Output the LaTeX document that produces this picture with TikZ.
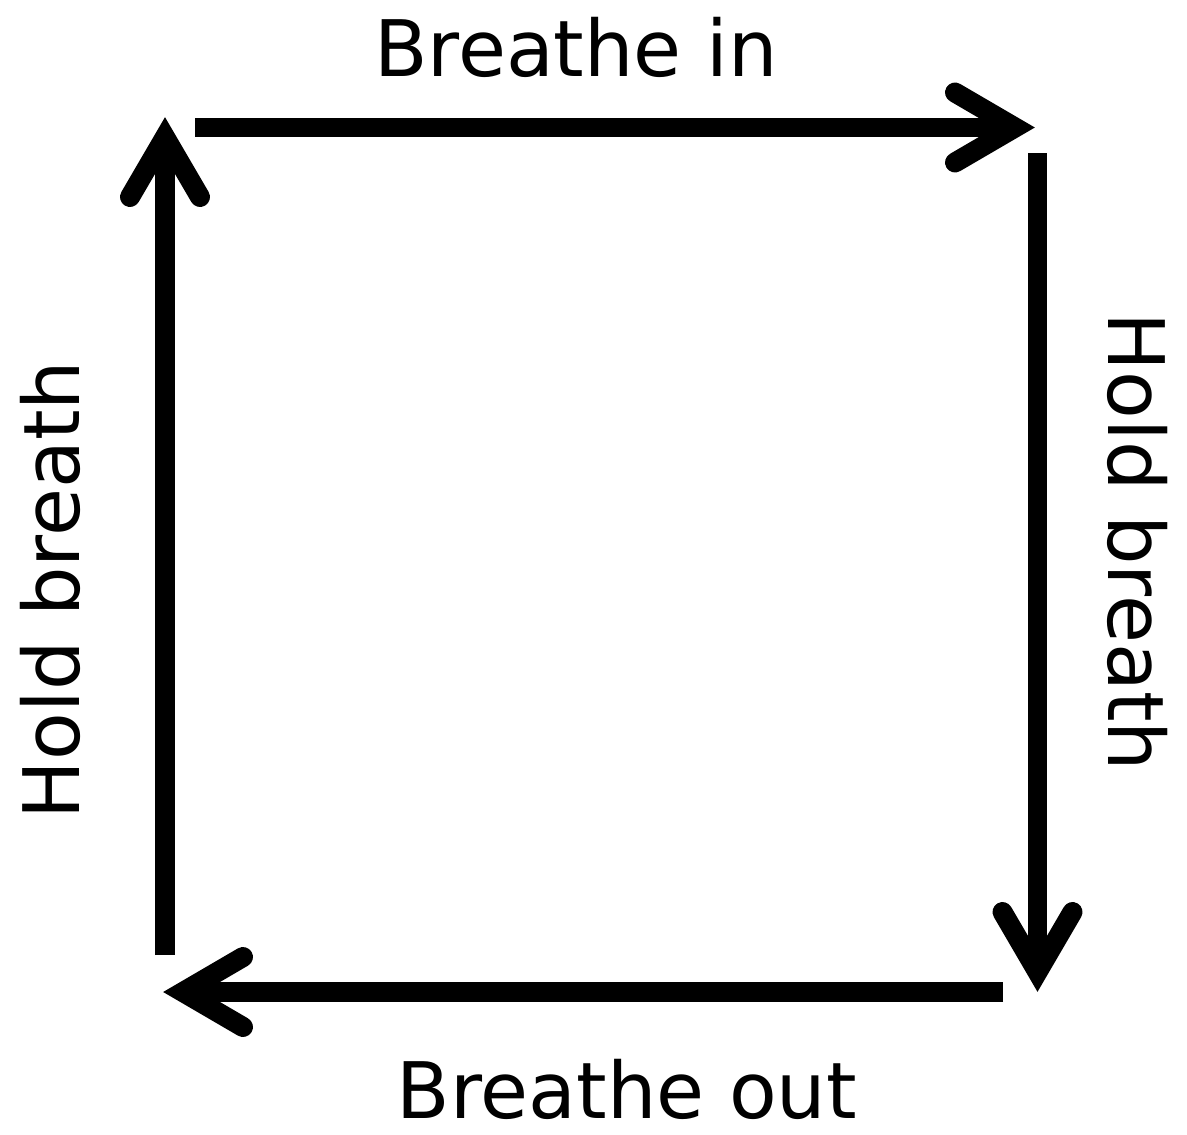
\documentclass[tikz,border=0pt]{standalone}
\usepackage{fontspec}
\setmainfont{DejaVu Sans}
\begin{document}
\begin{tikzpicture}[x=1pt,y=-1pt,
  shaft/.style={line width=19.5pt,line cap=butt},
  head/.style={line width=20pt,line cap=round,line join=miter},
  lbl/.style={inner sep=0pt,font=\fontsize{78}{92}\selectfont}]
\useasboundingbox (0,0) rectangle (1187,1135);
% corner coordinates
\coordinate (ts) at (195,127.5);
\coordinate (tt) at (1035,127.5);
\coordinate (rs) at (1037.5,153);
\coordinate (rt) at (1037.5,992);
\coordinate (bs) at (1003,992);
\coordinate (bt) at (163,992);
\coordinate (ls) at (165,955);
\coordinate (lt) at (165,117);
% shafts
\draw[shaft] (ts) -- ([shift={(-20,0)}]tt);
\draw[shaft] (rs) -- ([shift={(0,-20)}]rt);
\draw[shaft] (bs) -- ([shift={(20,0)}]bt);
\draw[shaft] (ls) -- ([shift={(0,20)}]lt);
% heads
\draw[head] ([shift={(-80,-35)}]tt) -- ([shift={(-20,0)}]tt) -- ([shift={(-80,35)}]tt);
\draw[head] ([shift={(-35,-80)}]rt) -- ([shift={(0,-20)}]rt) -- ([shift={(35,-80)}]rt);
\draw[head] ([shift={(80,-35)}]bt) -- ([shift={(20,0)}]bt) -- ([shift={(80,35)}]bt);
\draw[head] ([shift={(-35,80)}]lt) -- ([shift={(0,20)}]lt) -- ([shift={(35,80)}]lt);
% labels
\node[lbl] (in) at (576,47) {Breathe in};
\node[lbl] (out) at (627,1089) {Breathe out};
\node[lbl,rotate=90] (hl) at (50,590) {Hold breath};
\node[lbl,rotate=-90] (hr) at (1138,542) {Hold breath};
\end{tikzpicture}
\end{document}
